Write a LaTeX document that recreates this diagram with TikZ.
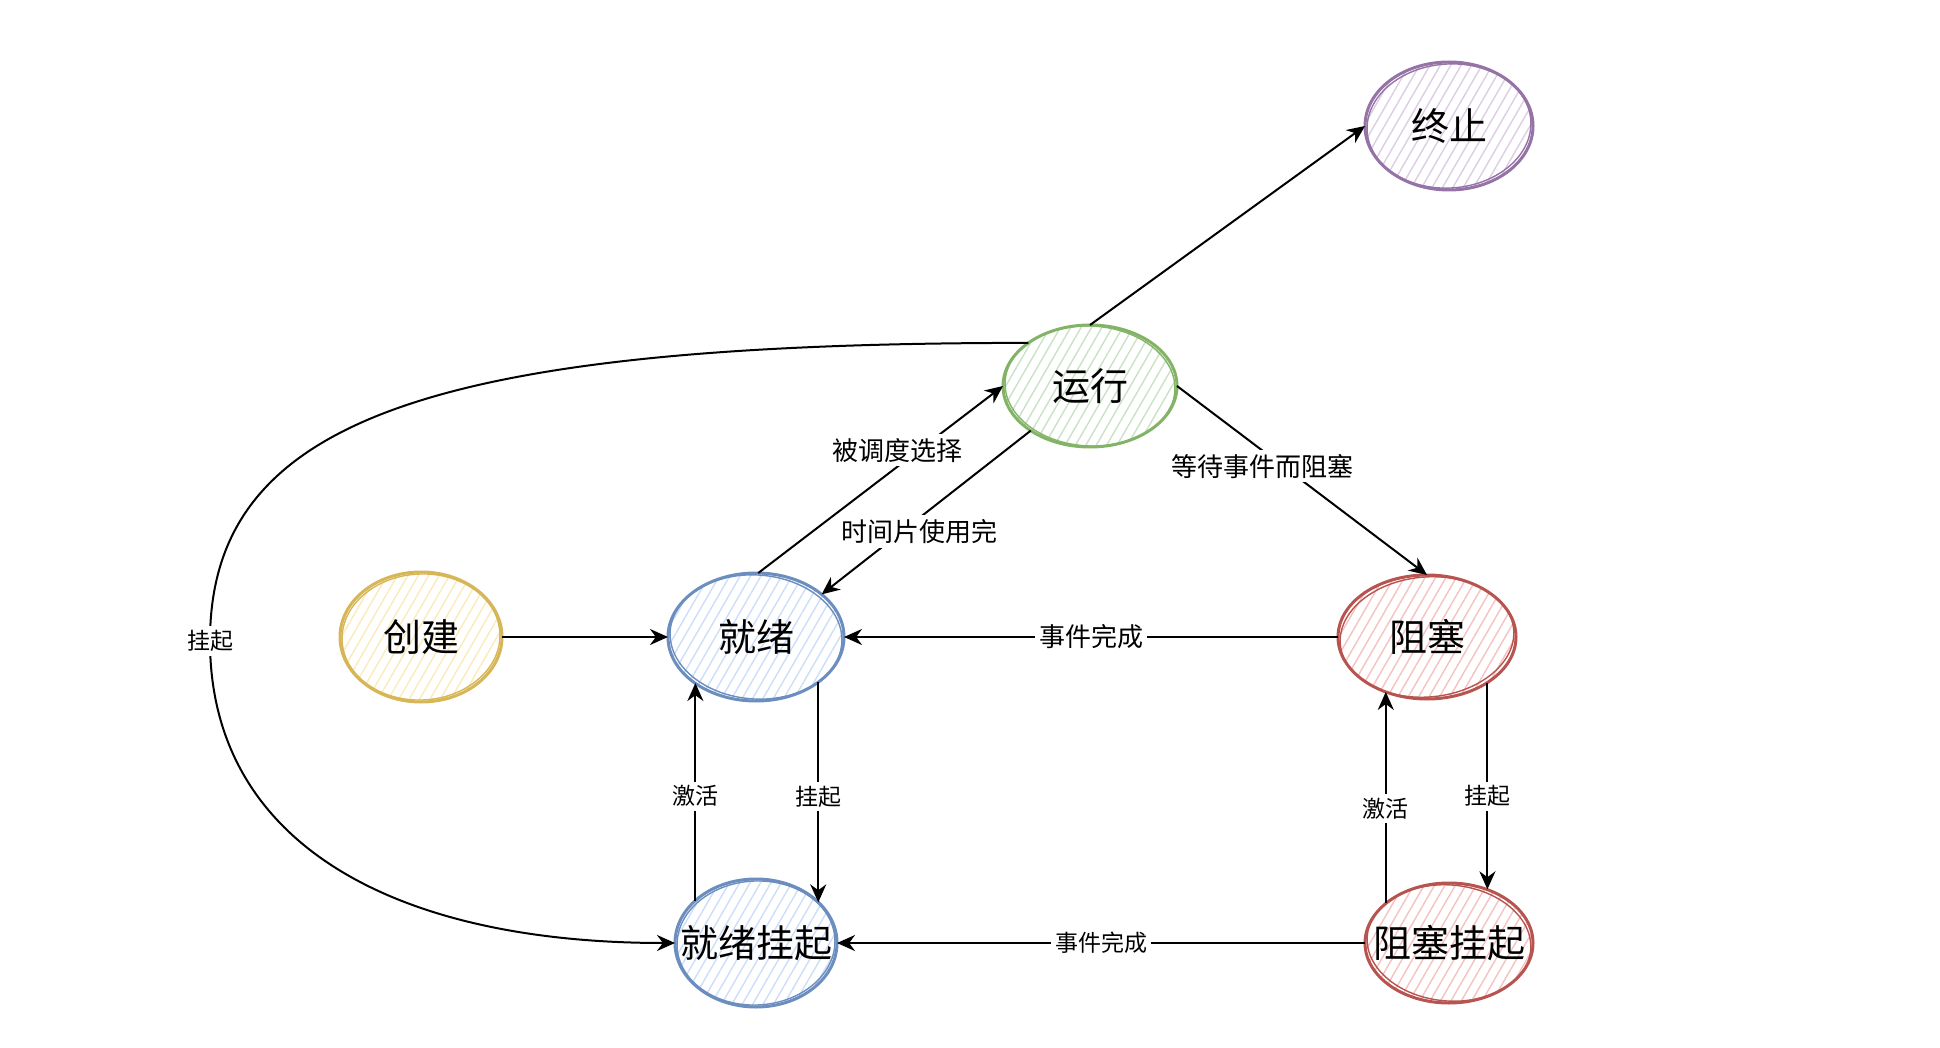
\documentclass[tikz,border=0pt]{standalone}
\usepackage{fontspec}
\setmainfont{Noto Sans CJK SC}
\usetikzlibrary{shapes.geometric,arrows.meta,patterns.meta}

\begin{document}
\begin{tikzpicture}[x=0.5pt, y=-0.5pt]
% process state diagram, coordinates in pixels (y down)
\providecommand{\stateLineWidth}{1.5pt}
\providecommand{\sketchLineWidth}{0.7pt}
\providecommand{\arrowLineWidth}{1pt}
\definecolor{greenLine}{HTML}{82B366}
\definecolor{greenFill}{HTML}{C9E2C6}
\definecolor{purpleLine}{HTML}{9673A6}
\definecolor{purpleFill}{HTML}{DCCDE3}
\definecolor{yellowLine}{HTML}{D6B656}
\definecolor{yellowFill}{HTML}{FBEBBB}
\definecolor{blueLine}{HTML}{6C8EBF}
\definecolor{blueFill}{HTML}{CCDEF8}
\definecolor{redLine}{HTML}{B85450}
\definecolor{redFill}{HTML}{F4C2C0}
\tikzset{
  state/.style={ellipse, draw, line width=\stateLineWidth, inner sep=0pt, outer sep=0pt},
  every label/.style={font=\fontsize{19}{22}\selectfont, inner sep=0pt},
  hatch/.style={pattern={Lines[angle=60, distance=4.5pt, line width=0.7pt]}, pattern color=#1},
  trans/.style={-{Stealth[length=9pt, width=8pt]}, line width=\arrowLineWidth},
  lbl/.style={fill=white, inner sep=2pt, font=\fontsize{13}{15}\selectfont},
  lblsmall/.style={fill=white, inner sep=2pt, font=\fontsize{11.5}{14}\selectfont}
}
\useasboundingbox (0,0) rectangle (1940,1048);

% States
\node[state, draw=purpleLine, hatch=purpleFill, minimum width=84pt, minimum height=64pt, label=center:终止] (zhongzhi) at (1449,126) {};
\node[state, draw=greenLine, hatch=greenFill, minimum width=87pt, minimum height=61pt, label=center:运行] (yunxing) at (1090,386) {};
\node[state, draw=yellowLine, hatch=yellowFill, minimum width=81pt, minimum height=65pt, label=center:创建] (chuangjian) at (421,637) {};
\node[state, draw=blueLine, hatch=blueFill, minimum width=88pt, minimum height=64pt, label=center:就绪] (jiuxu) at (756,637) {};
\node[state, draw=redLine, hatch=redFill, minimum width=89pt, minimum height=62pt, label=center:阻塞] (zuse) at (1427,637) {};
\node[state, draw=blueLine, hatch=blueFill, minimum width=81pt, minimum height=64pt, label=center:就绪挂起] (jiuxuguaqi) at (756,943) {};
\node[state, draw=redLine, hatch=redFill, minimum width=84pt, minimum height=60pt, label=center:阻塞挂起] (zuseguaqi) at (1449,943) {};

% Sketchy second strokes
\begin{scope}[line width=\sketchLineWidth]
  \draw[purpleLine, rotate around={4:(zhongzhi.center)}] (zhongzhi.center) ellipse [x radius=82, y radius=62];
  \draw[greenLine, rotate around={-3:(yunxing.center)}] (yunxing.center) ellipse [x radius=85, y radius=60];
  \draw[yellowLine, rotate around={3:(chuangjian.center)}] (chuangjian.center) ellipse [x radius=79, y radius=63];
  \draw[blueLine, rotate around={-4:(jiuxu.center)}] (jiuxu.center) ellipse [x radius=86, y radius=62];
  \draw[redLine, rotate around={5:(zuse.center)}] (zuse.center) ellipse [x radius=87, y radius=60];
  \draw[blueLine, rotate around={3:(jiuxuguaqi.center)}] (jiuxuguaqi.center) ellipse [x radius=79, y radius=62];
  \draw[redLine, rotate around={-5:(zuseguaqi.center)}] (zuseguaqi.center) ellipse [x radius=82, y radius=58];
\end{scope}

% Transitions
\draw[trans] (yunxing.north) -- (zhongzhi.west);
\draw[trans] (yunxing.east) -- node[lbl, pos=0.34, yshift=-8pt] {等待事件而阻塞} (zuse.north);
\draw[trans] (jiuxu.88) -- node[lbl, pos=0.57, yshift=8pt] {被调度选择} (yunxing.west);
\draw[trans] (yunxing.217) -- node[lbl, pos=0.53, yshift=-7pt] {时间片使用完} (jiuxu.33);
\draw[trans] (chuangjian.east) -- (jiuxu.west);
\draw[trans] (zuse.west) -- node[lbl] {事件完成} (jiuxu.east);
\draw[trans] (zuseguaqi.west) -- node[lblsmall] {事件完成} (jiuxuguaqi.east);
\draw[trans] (jiuxu.-36) -- node[lblsmall, pos=0.52] {挂起} (jiuxu.-36 |- jiuxuguaqi.33);
\draw[trans] (jiuxuguaqi.145) -- node[lblsmall, pos=0.48] {激活} (jiuxuguaqi.145 |- jiuxu.217);
\draw[trans] (zuse.-37) -- node[lblsmall, pos=0.55] {挂起} (zuse.-37 |- zuseguaqi.55);
\draw[trans] (zuseguaqi.148) -- node[lblsmall, pos=0.45] {激活} (zuseguaqi.148 |- zuse.233);
\coordinate (leftbend) at (210,641);
\draw[trans] (yunxing.145) .. controls (430,343) and (210,420) .. (leftbend) node[lblsmall] {挂起}
  .. controls (210,841) and (390,943) .. (jiuxuguaqi.west);
\end{tikzpicture}
\end{document}
